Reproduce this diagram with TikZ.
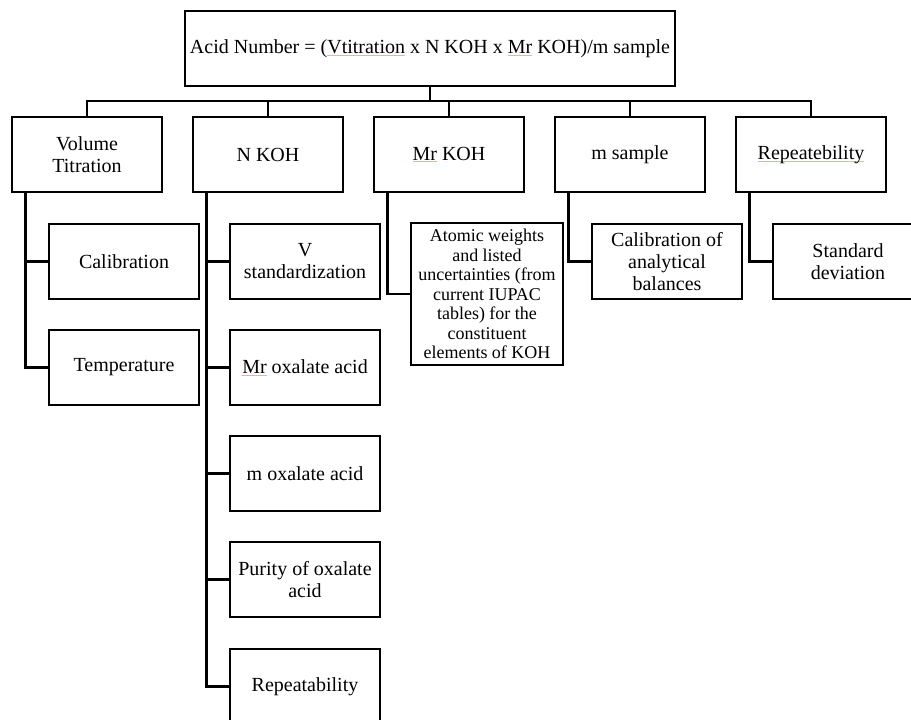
\documentclass[tikz,border=0pt]{standalone}
\usepackage{fontspec}
\setmainfont{Liberation Serif}
\usepackage{tikz}

% faint spell-check underline, as in the original
\newsavebox{\spellbox}
\newcommand{\spellmark}[1]{\sbox{\spellbox}{#1}\rlap{\textcolor{red!35}{\rule[-0.2ex]{\wd\spellbox}{0.6pt}}}\usebox{\spellbox}}

\begin{document}
\begin{tikzpicture}[x=1pt, y=-1pt,
    box/.style={draw, line width=2.8pt, rectangle, minimum width=150pt, minimum height=75pt,
                align=center, inner sep=2pt, font=\fontsize{20}{22}\selectfont},
    wire/.style={line width=2.8pt}]
    \useasboundingbox (0,0) rectangle (911,720);

    % Formula
    \node[box, minimum width=490pt] (formula) at (430,48.5)
        {Acid Number = (\spellmark{Vtitration} x N KOH x \spellmark{Mr} KOH)/m sample};

    % Quantities
    \node[box] (voltit) at (87,154.5) {Volume\\Titration};
    \node[box] (nkoh) at (268,154.5) {N KOH};
    \node[box] (mrkoh) at (449,154.5) {\spellmark{Mr} KOH};
    \node[box] (msample) at (630,154.5) {m sample};
    \node[box] (repeat) at (811,154.5) {\spellmark{Repeatebility}};

    % Bus
    \coordinate (bus) at (430,101);
    \draw[wire] (formula.south) -- (formula.south |- bus);
    \draw[wire] (voltit.north) |- (bus) -| (repeat.north);
    \foreach \n in {nkoh,mrkoh,msample}
        \draw[wire] (\n.north) -- (\n.north |- bus);

    % Sources of uncertainty
    \node[box] (calib) at (124,261.5) {Calibration};
    \node[box] (temp) at (124,367.5) {Temperature};

    \node[box] (vstd) at (305,261.5) {V\\standardization};
    \node[box] (mrox) at (305,367.5) {\spellmark{Mr} oxalate acid};
    \node[box] (mox) at (305,473.5) {m oxalate acid};
    \node[box] (purity) at (305,579.5) {Purity of oxalate\\acid};
    \node[box] (repnk) at (305,686.5) {Repeatability};

    \node[box, minimum width=152pt, minimum height=142pt, font=\fontsize{18}{19.5}\selectfont]
        (atomic) at (487,294) {Atomic weights\\and listed\\uncertainties (from\\current IUPAC\\tables) for the\\constituent\\elements of KOH};

    \node[box] (balance) at (667,261.5) {Calibration of\\analytical\\balances};
    \node[box] (stddev) at (848,261.5) {Standard\\deviation};

    % Branches
    \foreach \c in {calib,temp}
        \draw[wire] ([xshift=15pt]voltit.south west) |- (\c.west);
    \foreach \c in {vstd,mrox,mox,purity,repnk}
        \draw[wire] ([xshift=15pt]nkoh.south west) |- (\c.west);
    \draw[wire] ([xshift=15pt]mrkoh.south west) |- (atomic.west);
    \draw[wire] ([xshift=15pt]msample.south west) |- (balance.west);
    \draw[wire] ([xshift=15pt]repeat.south west) |- (stddev.west);
\end{tikzpicture}
\end{document}
